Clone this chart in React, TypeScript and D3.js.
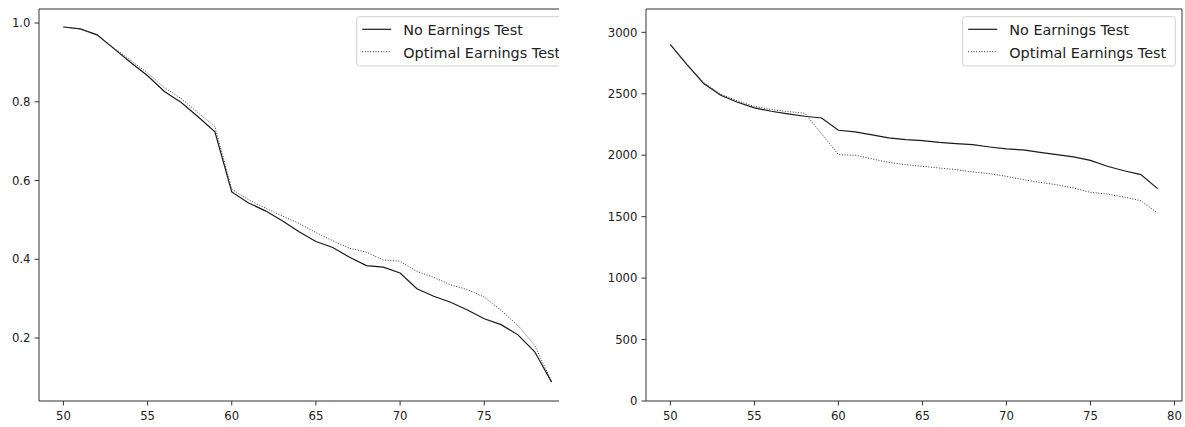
import React from "react";
import * as d3 from "d3";

const ages = [50, 51, 52, 53, 54, 55, 56, 57, 58, 59, 60, 61, 62, 63, 64, 65, 66, 67, 68, 69, 70, 71, 72, 73, 74, 75, 76, 77, 78, 79];

const leftNoTest = [0.990, 0.985, 0.970, 0.935, 0.900, 0.866, 0.826, 0.798, 0.762, 0.724, 0.571, 0.543, 0.523, 0.498, 0.470, 0.445, 0.430, 0.405, 0.384, 0.380, 0.365, 0.325, 0.306, 0.291, 0.271, 0.249, 0.234, 0.208, 0.165, 0.088];
const leftOptimal = [0.990, 0.985, 0.970, 0.937, 0.905, 0.873, 0.836, 0.808, 0.772, 0.737, 0.578, 0.551, 0.530, 0.510, 0.491, 0.468, 0.447, 0.428, 0.418, 0.398, 0.395, 0.369, 0.354, 0.335, 0.323, 0.304, 0.270, 0.232, 0.181, 0.090];

const rightNoTest = [2900, 2736, 2581, 2488, 2431, 2385, 2358, 2337, 2317, 2303, 2203, 2190, 2165, 2141, 2127, 2119, 2105, 2095, 2086, 2067, 2051, 2043, 2024, 2005, 1986, 1958, 1910, 1874, 1842, 1728];
const rightOptimal = [2900, 2740, 2590, 2497, 2442, 2397, 2372, 2355, 2342, 2175, 2005, 2000, 1970, 1942, 1923, 1910, 1896, 1883, 1864, 1850, 1828, 1801, 1779, 1760, 1733, 1698, 1684, 1660, 1630, 1530];

const leftXTicks = [50, 55, 60, 65, 70, 75];
const rightXTicks = [50, 55, 60, 65, 70, 75, 80];
const leftYTicks = [0.2, 0.4, 0.6, 0.8, 1.0];
const rightYTicks = [0, 500, 1000, 1500, 2000, 2500, 3000];

const seriesLabels = ["No Earnings Test", "Optimal Earnings Test"];

const FONT = "DejaVu Sans, sans-serif";
const AXIS = "#333";
const TICK_LEN = 4.5;

type PanelProps = {
  x0: number; x1: number; y0: number; y1: number;
  xDomain: [number, number]; yDomain: [number, number];
  xTicks: number[]; yTicks: number[];
  yFmt: (v: number) => string;
  s1: number[]; s2: number[];
  clipRight?: number; id: string; showRightSpine: boolean;
};

function Panel(p: PanelProps) {
  const x = d3.scaleLinear().domain(p.xDomain).range([p.x0, p.x1]);
  const y = d3.scaleLinear().domain(p.yDomain).range([p.y1, p.y0]);
  const line = d3.line<number>().x((_, i) => x(ages[i])).y((v) => y(v));
  const clipW = (p.clipRight ?? p.x1 + 10) - p.x0 + 20;
  const legR = p.x1 - 6.7;
  const legL = legR - 212.6;
  const legT = p.y0 + 7.7;
  return (
    <g>
      <defs>
        <clipPath id={p.id}>
          <rect x={p.x0 - 60} y={0} width={clipW + 40} height={427} />
        </clipPath>
      </defs>
      <g clipPath={`url(#${p.id})`}>
        <path d={line(p.s1) || ""} fill="none" stroke="#1a1a1a" strokeWidth={1.2} />
        <path d={line(p.s2) || ""} fill="none" stroke="#333" strokeWidth={1} strokeDasharray="1,1.65" />
        {/* spines */}
        <line x1={p.x0} x2={p.x1} y1={p.y0} y2={p.y0} stroke={AXIS} strokeWidth={1} />
        <line x1={p.x0} x2={p.x1} y1={p.y1} y2={p.y1} stroke={AXIS} strokeWidth={1} />
        <line x1={p.x0} x2={p.x0} y1={p.y0} y2={p.y1} stroke={AXIS} strokeWidth={1} />
        {p.showRightSpine && <line x1={p.x1} x2={p.x1} y1={p.y0} y2={p.y1} stroke={AXIS} strokeWidth={1} />}
        {/* legend */}
        <rect x={legL} y={legT} width={212.6} height={49.3} rx={2.5} fill="white" fillOpacity={0.8} stroke="#d0d0d0" strokeWidth={1} />
        <line x1={legL + 5.5} x2={legL + 34.5} y1={legT + 12.6} y2={legT + 12.6} stroke="#1a1a1a" strokeWidth={1.2} />
        <line x1={legL + 5.5} x2={legL + 34.5} y1={legT + 35} y2={legT + 35} stroke="#333" strokeWidth={1} strokeDasharray="1,1.65" />
        <text x={legL + 46.6} y={legT + 18.3} fontFamily={FONT} fontSize={14.4} fill="#222">{seriesLabels[0]}</text>
        <text x={legL + 46.6} y={legT + 40.8} fontFamily={FONT} fontSize={14.4} fill="#222">{seriesLabels[1]}</text>
      </g>
      {p.xTicks.map((t) => (
        <g key={"x" + t}>
          <line x1={x(t)} x2={x(t)} y1={p.y1} y2={p.y1 + TICK_LEN} stroke={AXIS} />
          <text x={x(t)} y={p.y1 + 18.5} textAnchor="middle" fontFamily={FONT} fontSize={11.7} fill="#222">{t}</text>
        </g>
      ))}
      {p.yTicks.map((t) => (
        <g key={"y" + t}>
          <line x1={p.x0 - TICK_LEN} x2={p.x0} y1={y(t)} y2={y(t)} stroke={AXIS} />
          <text x={p.x0 - 8.5} y={y(t) + 4.2} textAnchor="end" fontFamily={FONT} fontSize={11.7} fill="#222">{p.yFmt(t)}</text>
        </g>
      ))}
    </g>
  );
}

export default function App() {
  return (
    <svg width={1185} height={427} style={{ position: "absolute", left: 0, top: 0, background: "white" }}>
      <rect x={0} y={0} width={1185} height={427} fill="white" />
      <Panel
        id="clipL"
        x0={39} x1={576} y0={9} y1={401}
        xDomain={[48.55, 80.45]} yDomain={[0.04, 1.0357]}
        xTicks={leftXTicks} yTicks={leftYTicks}
        yFmt={(v) => v.toFixed(1)}
        s1={leftNoTest} s2={leftOptimal}
        clipRight={559}
        showRightSpine={false}
      />
      <Panel
        id="clipR"
        x0={646} x1={1182} y0={9} y1={401}
        xDomain={[48.55, 80.45]} yDomain={[0, 3190]}
        xTicks={rightXTicks} yTicks={rightYTicks}
        yFmt={(v) => String(v)}
        s1={rightNoTest} s2={rightOptimal}
        showRightSpine={true}
      />
    </svg>
  );
}
